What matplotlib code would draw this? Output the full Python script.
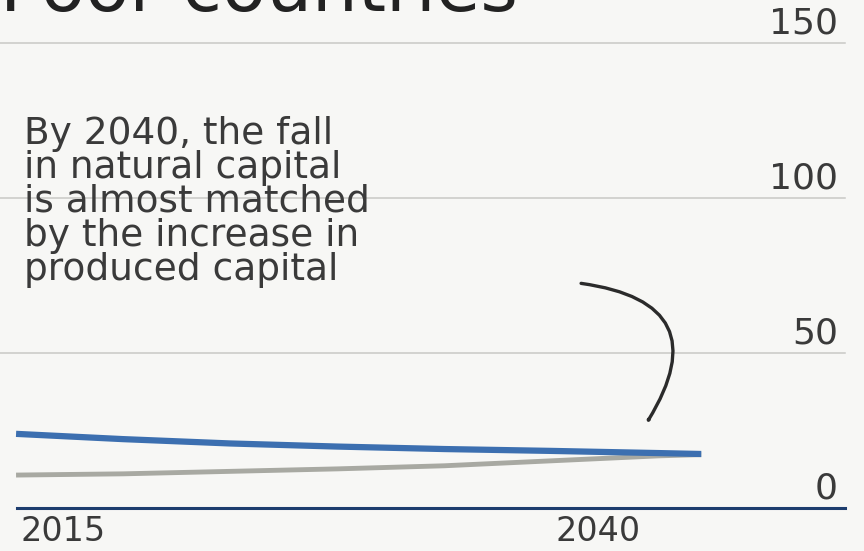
import matplotlib
matplotlib.use("Agg")
import matplotlib.pyplot as plt
from matplotlib.patches import FancyArrowPatch

TITLE = "Poor countries"
NOTE = "By 2040, the fall\nin natural capital\nis almost matched\nby the increase in\nproduced capital"

years = [2015, 2020, 2025, 2030, 2035, 2040, 2045, 2047]
natural = [23.9, 22.2, 20.8, 19.8, 19.0, 18.4, 17.7, 17.4]
produced = [10.6, 11.0, 11.8, 12.6, 13.6, 15.2, 16.8, 17.2]

y_ticks = [0, 50, 100, 150]
x_ticks = [2015, 2040]

BG = "#f7f7f5"
BLUE = "#3c6fb0"
GREY = "#a8a9a2"
NAVY = "#1d3d6e"
TXT = "#3a3a3a"

fig = plt.figure(figsize=(8.64, 5.51), dpi=100)
fig.patch.set_facecolor(BG)
ax = fig.add_axes([0, 0, 1, 1])
ax.set_facecolor(BG)
ax.set_xlim(2014.25, 2054.6)
ax.set_ylim(-13.9, 163.9)
ax.axis("off")

# gridlines + labels on the right
for t in y_ticks:
    if t == 0:
        ax.axhline(t, xmin=0.02, xmax=0.978, color=NAVY, lw=2.2, zorder=3)
    else:
        ax.axhline(t, xmin=0.0, xmax=0.978, color="#c9c9c6", lw=1.1, zorder=1)
    ax.text(0.97, t + 3.2, str(t), transform=ax.get_yaxis_transform(),
            ha="right", va="baseline", fontsize=26, color=TXT)

for yr in x_ticks:
    ax.text(yr + 0.2, -10.7, str(yr), ha="left", va="baseline", fontsize=24,
            color=TXT)

ax.plot(years, produced, color=GREY, lw=3.5, zorder=4, solid_capstyle="butt")
ax.plot(years, natural, color=BLUE, lw=4.5, zorder=5, solid_capstyle="butt")

# title is cropped by the top edge, as in the source
fig.text(0.0, 1 - 11 / 551, TITLE, ha="left", va="baseline", fontsize=52,
         color="#222222")

ax.text(2015.35, 126.5, NOTE, ha="left", va="top", fontsize=27, color=TXT,
        linespacing=0.93)

# curved pointer towards the lines
start = (2014.25 + 578 / 21.4, (508 - 283) / 3.1)
end = (2014.25 + 645 / 21.4, (508 - 425) / 3.1)
arrow = FancyArrowPatch(start, end, connectionstyle="arc3,rad=-0.78",
                        arrowstyle="-|>,head_length=0.45,head_width=0.3",
                        color="#2b2b2b", lw=2.4, zorder=6)
ax.add_patch(arrow)

fig.savefig("out.png", dpi=100, facecolor=BG)
